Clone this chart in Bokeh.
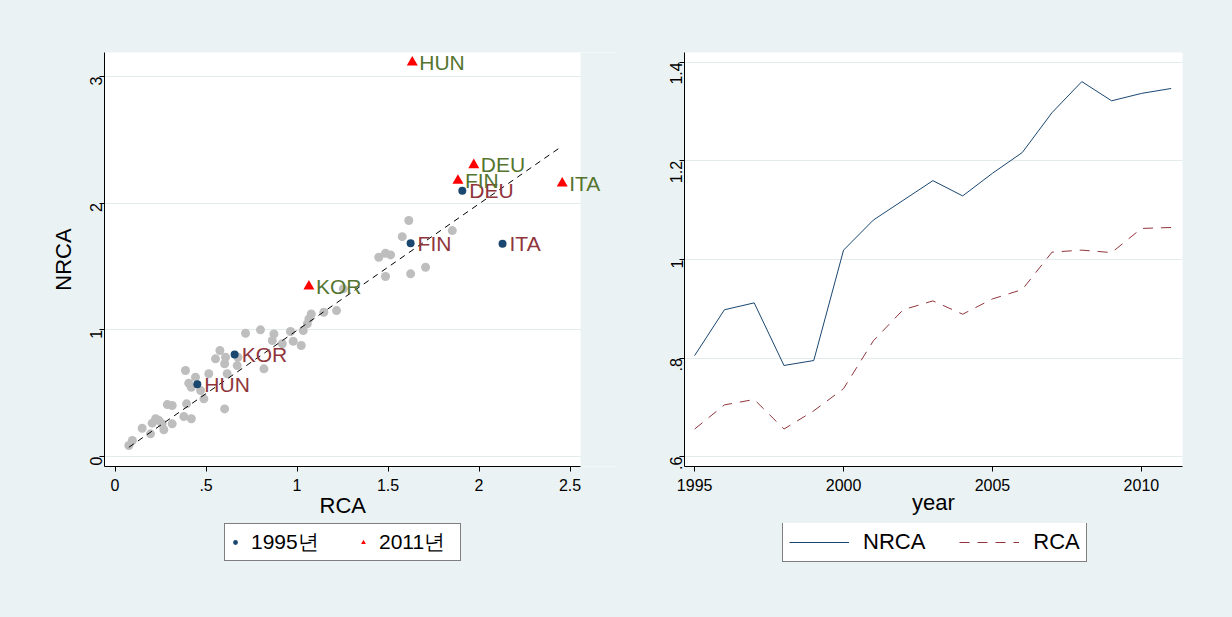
import numpy as np
from bokeh.plotting import figure
from bokeh.models import (Legend, LegendItem, Range1d, FixedTicker, LabelSet,
                          ColumnDataSource, BoxAnnotation, Title)
from bokeh.layouts import row, column
from bokeh.embed import file_html
from bokeh.resources import INLINE
from bokeh.core.properties import value

# ---------------- data: left panel (scatter) ----------------
other_rca = [0.076, 0.095, 0.149, 0.195, 0.204, 0.223, 0.241, 0.259, 0.268, 0.287,
             0.314, 0.314, 0.378, 0.419, 0.393, 0.387, 0.405, 0.419, 0.442, 0.470,
             0.488, 0.515, 0.552, 0.576, 0.602, 0.602, 0.616, 0.607, 0.671, 0.675,
             0.717, 0.799, 0.818, 0.864, 0.873, 0.919, 0.964, 0.979, 1.023, 1.034,
             1.056, 1.065, 1.078, 1.147, 1.217, 1.449, 1.254, 1.614, 1.578, 1.486,
             1.514, 1.486, 1.624, 1.706, 1.853]
other_nrca = [0.087, 0.126, 0.223, 0.179, 0.263, 0.298, 0.284, 0.258, 0.211, 0.410,
              0.403, 0.258, 0.316, 0.298, 0.416, 0.679, 0.579, 0.547, 0.626, 0.521,
              0.455, 0.653, 0.771, 0.837, 0.376, 0.732, 0.653, 0.784, 0.718, 0.784,
              0.973, 1.000, 0.692, 0.916, 0.968, 0.890, 0.987, 0.910, 0.876, 0.994,
              1.047, 1.087, 1.126, 1.139, 1.152, 1.573, 1.324, 1.863, 1.736, 1.605,
              1.592, 1.421, 1.442, 1.494, 1.784]

countries = ["DEU", "FIN", "HUN", "ITA", "KOR"]
rca_1995 = [1.908, 1.624, 0.452, 2.129, 0.657]
nrca_1995 = [2.099, 1.684, 0.571, 1.679, 0.805]
rca_2011 = [1.971, 1.884, 1.633, 2.457, 1.065]
nrca_2011 = [2.302, 2.178, 3.112, 2.157, 1.344]

fit_intercept = -0.003
fit_slope = 0.999

x_tick_values = [0, 0.5, 1, 1.5, 2, 2.5]
x_tick_labels = ["0", ".5", "1", "1.5", "2", "2.5"]
y_tick_values = [0, 1, 2, 3]
y_tick_labels = ["0", "1", "2", "3"]

# ---------------- data: right panel (time series) ----------------
years = [1995, 1996, 1997, 1998, 1999, 2000, 2001, 2002, 2003, 2004, 2005,
         2006, 2007, 2008, 2009, 2010, 2011]
nrca_series = [0.805, 0.898, 0.912, 0.785, 0.795, 1.019, 1.080, 1.120, 1.160,
               1.129, 1.175, 1.217, 1.298, 1.361, 1.322, 1.337, 1.347]
rca_series = [0.656, 0.705, 0.716, 0.656, 0.693, 0.738, 0.835, 0.898, 0.916,
              0.889, 0.920, 0.939, 1.015, 1.019, 1.014, 1.063, 1.065]

yr_tick_values = [1995, 2000, 2005, 2010]
yr_tick_labels = ["1995", "2000", "2005", "2010"]
r_tick_values = [0.6, 0.8, 1.0, 1.2, 1.4]
r_tick_labels = [".6", ".8", "1", "1.2", "1.4"]

# ---------------- styling ----------------
BG = "#EAF2F3"
GRID = "#E3EBED"
NAVY = "#1A476F"
MAROON = "#90353B"
FOREST = "#55752F"
FONT = "Liberation Sans"
TICK_FS = "16px"
TITLE_FS = "22px"
TOP_H = 523          # height of the two chart panels
STRIP_H = 617 - TOP_H


def style(p):
    p.background_fill_color = "white"
    p.border_fill_color = BG
    p.outline_line_color = None
    p.xgrid.grid_line_color = None
    p.ygrid.grid_line_color = GRID
    p.ygrid.grid_line_width = 1
    for ax in (p.xaxis[0], p.yaxis[0]):
        ax.axis_line_color = "black"
        ax.axis_line_width = 1
        ax.major_tick_line_color = "black"
        ax.major_tick_out = 5
        ax.major_tick_in = 0
        ax.minor_tick_line_color = None
        ax.major_label_text_font = FONT
        ax.major_label_text_font_size = TICK_FS
        ax.major_label_text_color = "black"
        ax.axis_label_text_font = FONT
        ax.axis_label_text_font_size = TITLE_FS
        ax.axis_label_text_font_style = "normal"
        ax.axis_label_text_color = "black"
    p.yaxis[0].major_label_orientation = np.pi / 2
    p.yaxis[0].major_label_standoff = 3
    p.xaxis[0].major_label_standoff = 7
    p.xaxis[0].axis_label_standoff = -4


# ---------------- left figure ----------------
x_lo, x_hi = -0.058, 2.558          # visible plot region of the scatter
x_ext = x_lo + 512 / 182             # frame extended so labels are not cut
p1 = figure(frame_width=512, frame_height=414,
            min_border_left=104, min_border_right=0,
            min_border_top=52, min_border_bottom=TOP_H - 466,
            x_range=Range1d(x_lo, x_ext), y_range=Range1d(-0.079, 3.19),
            output_backend="svg", toolbar_location=None)
style(p1)
p1.xaxis.bounds = (x_lo, x_hi)
p1.add_layout(BoxAnnotation(left=x_hi, fill_color=BG, fill_alpha=1.0,
                            line_color=None, level="underlay"))
p1.add_layout(Title(text="RCA", align="left", offset=215, standoff=-5,
                    text_font=FONT, text_font_size=TITLE_FS,
                    text_font_style="normal", text_color="black"), "below")
p1.yaxis.axis_label = "NRCA"
p1.yaxis.axis_label_standoff = 6
p1.xaxis.ticker = FixedTicker(ticks=x_tick_values)
p1.yaxis.ticker = FixedTicker(ticks=y_tick_values)
p1.xaxis.major_label_overrides = dict(zip(x_tick_values, x_tick_labels))
p1.yaxis.major_label_overrides = dict(zip(y_tick_values, y_tick_labels))

p1.scatter(other_rca, other_nrca, size=9, color="#BEBEBE", line_color=None)

all_rca = other_rca + rca_1995 + rca_2011
fx = np.array([min(all_rca), max(all_rca)])
p1.line(fx, fit_intercept + fit_slope * fx, line_color="black", line_width=1,
        line_dash="6 5")

p1.scatter(rca_1995, nrca_1995, size=8, color=NAVY, line_color=None)
p1.scatter(rca_2011, nrca_2011, size=11, marker="triangle", color="red",
           line_color=None)

src95 = ColumnDataSource(dict(x=rca_1995, y=nrca_1995, t=countries))
src11 = ColumnDataSource(dict(x=rca_2011, y=nrca_2011, t=countries))
p1.add_layout(LabelSet(x="x", y="y", text="t", source=src95, x_offset=7,
                       text_font=value(FONT), text_font_size="21px",
                       text_baseline="middle", text_align="left",
                       text_color=MAROON))
p1.add_layout(LabelSet(x="x", y="y", text="t", source=src11, x_offset=7,
                       text_font=value(FONT), text_font_size="21px",
                       text_baseline="middle", text_align="left",
                       text_color=FOREST))

# ---------------- right figure ----------------
p2 = figure(frame_width=498, frame_height=414,
            min_border_left=68, min_border_right=50,
            min_border_top=52, min_border_bottom=TOP_H - 466,
            x_range=Range1d(1994.66, 2011.38), y_range=Range1d(0.580, 1.420),
            output_backend="svg", toolbar_location=None)
style(p2)
p2.xaxis.axis_label = "year"
p2.xaxis.ticker = FixedTicker(ticks=yr_tick_values)
p2.yaxis.ticker = FixedTicker(ticks=r_tick_values)
p2.xaxis.major_label_overrides = dict(zip(yr_tick_values, yr_tick_labels))
p2.yaxis.major_label_overrides = dict(zip(r_tick_values, r_tick_labels))

p2.line(years, nrca_series, line_color=NAVY, line_width=1)
p2.line(years, rca_series, line_color=MAROON, line_width=1, line_dash="10 8")


# ---------------- legend strips (data kept out of view; only keys show) ----------------
def legend_strip():
    q = figure(width=616, height=STRIP_H, min_border=0, x_range=Range1d(5000, 5001),
               y_range=Range1d(5000, 5001), output_backend="svg",
               toolbar_location=None)
    q.axis.visible = False
    q.grid.grid_line_color = None
    q.outline_line_color = None
    q.background_fill_color = BG
    q.border_fill_color = BG
    return q


lg1 = legend_strip()
d95 = lg1.scatter(rca_1995, nrca_1995, size=8, color=NAVY, line_color=None)
d11 = lg1.scatter(rca_2011, nrca_2011, size=11, marker="triangle", color="red",
                  line_color=None)
leg1 = Legend(items=[LegendItem(label="1995년", renderers=[d95]),
                     LegendItem(label="2011년", renderers=[d11])],
              orientation="horizontal", location=(224, 56),
              label_text_font=FONT, label_text_font_size="21px",
              label_text_color="black", label_width=77,
              glyph_width=12, glyph_height=20, label_standoff=10, spacing=29,
              padding=4, margin=0, border_line_color="black",
              border_line_width=1, background_fill_color="white",
              background_fill_alpha=1.0)
lg1.add_layout(leg1, "center")

lg2 = legend_strip()
dn = lg2.line(years, nrca_series, line_color=NAVY, line_width=1)
dr = lg2.line(years, rca_series, line_color=MAROON, line_width=1, line_dash="10 8")
leg2 = Legend(items=[LegendItem(label="NRCA", renderers=[dn]),
                     LegendItem(label="RCA", renderers=[dr])],
              orientation="horizontal", location=(166, 55),
              label_text_font=FONT, label_text_font_size="22px",
              label_text_color="black",
              glyph_width=60, glyph_height=20, label_standoff=14, spacing=34,
              padding=6, margin=0, border_line_color="black",
              border_line_width=1, background_fill_color="white",
              background_fill_alpha=1.0)
lg2.add_layout(leg2, "center")

layout = column(row(p1, p2, styles={"background-color": BG}),
                row(lg1, lg2, styles={"background-color": BG}),
                styles={"background-color": BG})
open("out.html", "w").write(file_html(layout, INLINE))
